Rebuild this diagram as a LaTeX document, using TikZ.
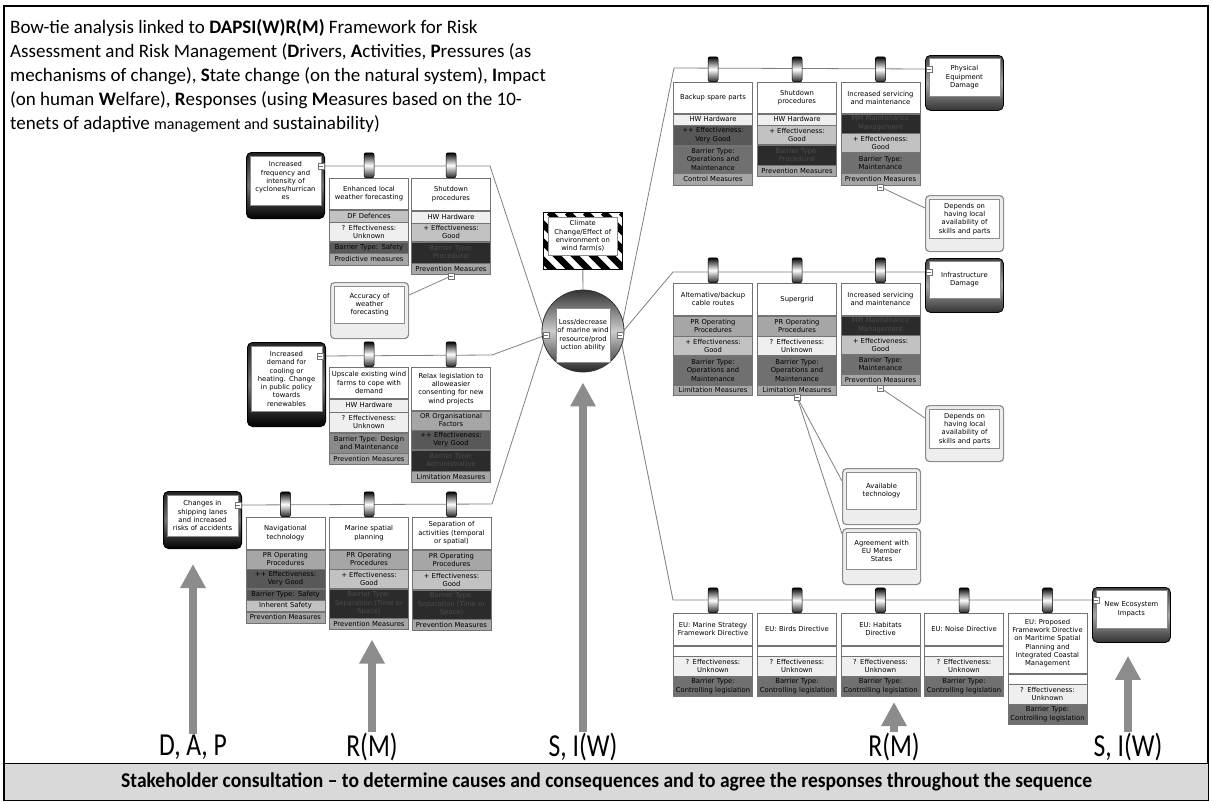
\documentclass[tikz,border=0pt]{standalone}
\usepackage{fontspec}
\usepackage{graphicx}
\setmainfont{Carlito}
\newfontfamily\boxfam{DejaVu Sans}
\usetikzlibrary{positioning,arrows.meta}
\newcommand\boxtxt{\boxfam\fontsize{6.8}{8.3}\selectfont}
\newcommand\ttlfont{\fontsize{19}{24}\selectfont}
\newcommand\labtxt[1]{\scalebox{0.8}[1]{\fontsize{32}{32}\selectfont #1}}
\newcommand\bnfont{\bfseries\fontsize{21}{21}\selectfont}
\definecolor{rA}{HTML}{EFEFEF}
\definecolor{rB}{HTML}{C2C2C2}
\definecolor{rC}{HTML}{A6A6A6}
\definecolor{rD}{HTML}{8A8A8A}
\definecolor{rE}{HTML}{707070}
\definecolor{rF}{HTML}{585858}
\definecolor{rG}{HTML}{2B2B2B}
\definecolor{wirec}{HTML}{7F7F7F}
\definecolor{arrc}{HTML}{8C8C8C}
\definecolor{banner}{HTML}{D9D9D9}
\pgfdeclarelayer{bg}
\pgfsetlayers{bg,main}
\begin{document}
\begin{tikzpicture}[x=1pt,y=-1pt,
  cell/.style={draw=black!55,line width=.5pt,minimum width=79pt,text width=79pt,inner xsep=0pt,inner ysep=0pt,align=center,font=\boxtxt},
  hd/.style={cell,fill=white,minimum height=#1pt,anchor=north},
  rw/.style 2 args={cell,fill=#1,minimum height=#2pt},
  dk/.style={text=black!70},
  hang/.style={draw=black,line width=.5pt,rounded corners=2pt,minimum width=10pt,minimum height=25pt,inner sep=0pt,top color=black,bottom color=black!85,middle color=white},
  thr/.style={rounded corners=5pt,draw=black,line width=1pt,minimum width=78pt,minimum height=#1pt,anchor=north west,inner sep=0pt,top color=black!85,bottom color=black,middle color=black!55},
  con/.style={thr=#1,line width=.8pt,top color=black!75,bottom color=black!80,middle color=black!35},
  tin/.style={draw=black!45,line width=.6pt,fill=white,minimum width=71pt,text width=71pt,minimum height=#1pt,align=center,font=\boxtxt,inner sep=0pt,anchor=north},
  esc/.style={rounded corners=4pt,draw=black!45,line width=1.2pt,fill=black!7,minimum width=78pt,minimum height=56pt,anchor=north west,inner sep=0pt},
  btn/.style={draw=black!55,fill=white,line width=.5pt,minimum size=6pt,inner sep=0pt,
    path picture={\draw[line width=.5pt] ([xshift=1.3pt]path picture bounding box.west) -- ([xshift=-1.3pt]path picture bounding box.east);}},
  wire/.style={draw=wirec,line width=.8pt},
  bigarr/.style={draw=arrc,line width=7.5pt,-{Triangle[length=24pt,width=24pt]}},
  lab/.style={inner sep=1pt}]
\useasboundingbox (0,0) rectangle (1212,801);
\draw[line width=1.2pt] (4,6) rectangle (1208,800);
\node[anchor=north west,align=left,font=\ttlfont,inner sep=0pt] (ttl) at (10,19)
  {Bow-tie analysis linked to \textbf{DAPSI(W)R(M)} Framework for Risk\\
   Assessment and Risk Management (\textbf{D}rivers, \textbf{A}ctivities, \textbf{P}ressures (as\\
   mechanisms of change), \textbf{S}tate change (on the natural system), \textbf{I}mpact\\
   (on human \textbf{W}elfare), \textbf{R}esponses (using \textbf{M}easures based on the 10-\\
   tenets of adaptive {\fontsize{16}{24}\selectfont management and} sustainability)};

% top event and hazard
\node[draw=black,line width=.6pt,minimum width=79pt,minimum height=57pt,anchor=north west,inner sep=0pt,
  path picture={\foreach \s in {-66,-48,...,84} \draw[line width=6.4pt] ([xshift=\s pt]path picture bounding box.north west) -- ++(62pt,-62pt);}] (hz) at (543,212) {};
\node[tin=38,minimum width=69pt,text width=69pt] (hzi) at ([yshift=-5pt]hz.north) {Climate\\Change/Effect of\\environment on\\wind farm(s)};
\node[circle,draw=black!80,line width=.8pt,minimum size=82pt,inner sep=0pt,top color=black!80,bottom color=black!85,middle color=black!20] (te) at (583,331) {};
\node[tin=54,minimum width=54pt,text width=54pt,anchor=center] (tei) at (583,335) {Loss/decrease\\of marine wind\\resource/prod\\uction ability};
\node[btn] (bl) at (546,335) {};
\node[btn] (br) at (620,335) {};

% threats
\node[thr=66] (t1) at (246,152) {};
\node[tin=49] (t1i) at ([yshift=-4pt]t1.north) {Increased\\frequency and\\intensity of\\cyclones/hurrican\\es};
\node[btn] (bt1) at (321,166) {};
\node[thr=84] (t2) at (247,342) {};
\node[tin=65] (t2i) at ([yshift=-4pt]t2.north) {Increased\\demand for\\cooling or\\heating. Change\\in public policy\\towards\\renewables};
\node[btn] (bt2) at (320,356) {};
\node[thr=57] (t3) at (163,491) {};
\node[tin=41] (t3i) at ([yshift=-4pt]t3.north) {Changes in\\shipping lanes\\and increased\\risks of accidents};
\node[btn] (bt3) at (238,505) {};

% barriers, threat 1
\node[hd=31] (a1) at (369,178) {Enhanced local\\weather forecasting};
\node[rw={rB}{12},below=0pt of a1] (a1a) {DF Defences};
\node[rw={rA}{19},below=0pt of a1a] (a1b) {? Effectiveness:\\Unknown};
\node[rw={rF}{11},below=0pt of a1b] (a1c) {Barrier Type: Safety};
\node[rw={rC}{12},below=0pt of a1c] (a1d) {Predictive measures};
\node[hang,above=0pt of a1] (ha1) {};
\node[hd=32] (a2) at (451,178) {Shutdown\\procedures};
\node[rw={rA}{12},below=0pt of a2] (a2a) {HW Hardware};
\node[rw={rB}{18},below=0pt of a2a] (a2b) {+ Effectiveness:\\Good};
\node[rw={rG}{21},dk,below=0pt of a2b] (a2c) {Barrier Type:\\Procedural};
\node[rw={rC}{11},below=0pt of a2c] (a2d) {Prevention Measures};
\node[hang,above=0pt of a2] (ha2) {};
\node[btn] (ba2) at (451,276) {};
\node[esc] (x1) at (330,282) {};
\node[tin=37,minimum width=70pt,text width=70pt] (x1i) at ([yshift=-4pt]x1.north) {Accuracy of\\weather\\forecasting};

% barriers, threat 2
\node[hd=31] (b1) at (369,367) {Upscale existing wind\\farms to cope with\\demand};
\node[rw={rA}{13},below=0pt of b1] (b1a) {HW Hardware};
\node[rw={rA}{20},below=0pt of b1a] (b1b) {? Effectiveness:\\Unknown};
\node[rw={rD}{20},below=0pt of b1b] (b1c) {Barrier Type: Design\\and Maintenance};
\node[rw={rC}{11},below=0pt of b1c] (b1d) {Prevention Measures};
\node[hang,above=0pt of b1] (hb1) {};
\node[hd=43] (b2) at (451,367) {Relax legislation to\\alloweasier\\consenting for new\\wind projects};
\node[rw={rC}{19},below=0pt of b2] (b2a) {OR Organisational\\Factors};
\node[rw={rF}{19},below=0pt of b2a] (b2b) {++ Effectiveness:\\Very Good};
\node[rw={rG}{21},dk,below=0pt of b2b] (b2c) {Barrier Type:\\Administrative};
\node[rw={rC}{11},below=0pt of b2c] (b2d) {Limitation Measures};
\node[hang,above=0pt of b2] (hb2) {};

% barriers, threat 3
\node[hd=32] (c1) at (285.5,517) {Navigational\\technology};
\node[rw={rC}{19},below=0pt of c1] (c1a) {PR Operating\\Procedures};
\node[rw={rF}{19},below=0pt of c1a] (c1b) {++ Effectiveness:\\Very Good};
\node[rw={rF}{11},below=0pt of c1b] (c1c) {Barrier Type: Safety};
\node[rw={rB}{11},below=0pt of c1c] (c1d) {Inherent Safety};
\node[rw={rC}{11},below=0pt of c1d] (c1e) {Prevention Measures};
\node[hang,above=0pt of c1] (hc1) {};
\node[hd=32] (c2) at (369,517) {Marine spatial\\planning};
\node[rw={rC}{19},below=0pt of c2] (c2a) {PR Operating\\Procedures};
\node[rw={rB}{19},below=0pt of c2a] (c2b) {+ Effectiveness:\\Good};
\node[rw={rG}{29},dk,below=0pt of c2b] (c2c) {Barrier Type:\\Separation (Time or\\Space)};
\node[rw={rC}{11},below=0pt of c2c] (c2d) {Prevention Measures};
\node[hang,above=0pt of c2] (hc2) {};
\node[hd=32] (c3) at (451.5,517) {Separation of\\activities (temporal\\or spatial)};
\node[rw={rC}{20},below=0pt of c3] (c3a) {PR Operating\\Procedures};
\node[rw={rB}{19},below=0pt of c3a] (c3b) {+ Effectiveness:\\Good};
\node[rw={rG}{29},dk,below=0pt of c3b] (c3c) {Barrier Type:\\Separation (Time or\\Space)};
\node[rw={rC}{11},below=0pt of c3c] (c3d) {Prevention Measures};
\node[hang,above=0pt of c3] (hc3) {};

% consequences
\node[con=55] (q1) at (925,55) {};
\node[tin=38] (q1i) at ([yshift=-3pt]q1.north) {Physical\\Equipment\\Damage};
\node[btn] (bq1) at (929,69) {};
\node[con=54] (q2) at (925,258) {};
\node[tin=37] (q2i) at ([yshift=-3pt]q2.north) {Infrastructure\\Damage};
\node[btn] (bq2) at (929,272) {};
\node[con=55] (q3) at (1092,587) {};
\node[tin=38] (q3i) at ([yshift=-3pt]q3.north) {New Ecosystem\\Impacts};
\node[btn] (bq3) at (1096,600) {};

% barriers, consequence 1
\node[hd=31] (d1) at (713,82) {Backup spare parts};
\node[rw={rA}{11},below=0pt of d1] (d1a) {HW Hardware};
\node[rw={rF}{20},below=0pt of d1a] (d1b) {++ Effectiveness:\\Very Good};
\node[rw={rE}{27},below=0pt of d1b] (d1c) {Barrier Type:\\Operations and\\Maintenance};
\node[rw={rC}{12},below=0pt of d1c] (d1d) {Control Measures};
\node[hang,above=0pt of d1] (hd1) {};
\node[hd=31] (d2) at (797,82) {Shutdown\\procedures};
\node[rw={rA}{11},below=0pt of d2] (d2a) {HW Hardware};
\node[rw={rB}{19},below=0pt of d2a] (d2b) {+ Effectiveness:\\Good};
\node[rw={rG}{20},dk,below=0pt of d2b] (d2c) {Barrier Type:\\Procedural};
\node[rw={rC}{11},below=0pt of d2c] (d2d) {Prevention Measures};
\node[hang,above=0pt of d2] (hd2) {};
\node[hd=31] (d3) at (880.5,82) {Increased servicing\\and maintenance};
\node[rw={rG}{19},dk,below=0pt of d3] (d3a) {MM Maintenance\\Management};
\node[rw={rB}{19},below=0pt of d3a] (d3b) {+ Effectiveness:\\Good};
\node[rw={rE}{20},below=0pt of d3b] (d3c) {Barrier Type:\\Maintenance};
\node[rw={rC}{12},below=0pt of d3c] (d3d) {Prevention Measures};
\node[hang,above=0pt of d3] (hd3) {};
\node[btn] (bd3) at (880.5,187) {};
\node[esc] (x2) at (925,195) {};
\node[tin=39,minimum width=70pt,text width=70pt] (x2i) at ([yshift=-4pt]x2.north) {Depends on\\having local\\availability of\\skills and parts};

% barriers, consequence 2
\node[hd=32] (f1) at (713,283) {Alternative/backup\\cable routes};
\node[rw={rC}{20},below=0pt of f1] (f1a) {PR Operating\\Procedures};
\node[rw={rB}{19},below=0pt of f1a] (f1b) {+ Effectiveness:\\Good};
\node[rw={rE}{29},below=0pt of f1b] (f1c) {Barrier Type:\\Operations and\\Maintenance};
\node[rw={rC}{10},below=0pt of f1c] (f1d) {Limitation Measures};
\node[hang,above=0pt of f1] (hf1) {};
\node[hd=32] (f2) at (797,283) {Supergrid};
\node[rw={rC}{20},below=0pt of f2] (f2a) {PR Operating\\Procedures};
\node[rw={rA}{19},below=0pt of f2a] (f2b) {? Effectiveness:\\Unknown};
\node[rw={rE}{29},below=0pt of f2b] (f2c) {Barrier Type:\\Operations and\\Maintenance};
\node[rw={rC}{10},below=0pt of f2c] (f2d) {Limitation Measures};
\node[hang,above=0pt of f2] (hf2) {};
\node[btn] (bf2) at (797,397) {};
\node[hd=32] (f3) at (880.5,283) {Increased servicing\\and maintenance};
\node[rw={rG}{19},dk,below=0pt of f3] (f3a) {MM Maintenance\\Management};
\node[rw={rB}{19},below=0pt of f3a] (f3b) {+ Effectiveness:\\Good};
\node[rw={rE}{19},below=0pt of f3b] (f3c) {Barrier Type:\\Maintenance};
\node[rw={rC}{11},below=0pt of f3c] (f3d) {Prevention Measures};
\node[hang,above=0pt of f3] (hf3) {};
\node[btn] (bf3) at (880.5,388) {};
\node[esc] (x3) at (925,405) {};
\node[tin=39,minimum width=70pt,text width=70pt] (x3i) at ([yshift=-4pt]x3.north) {Depends on\\having local\\availability of\\skills and parts};
\node[esc] (x4) at (842,468) {};
\node[tin=37,minimum width=70pt,text width=70pt] (x4i) at ([yshift=-4pt]x4.north) {Available\\technology};
\node[esc] (x5) at (842,528) {};
\node[tin=37,minimum width=70pt,text width=70pt] (x5i) at ([yshift=-4pt]x5.north) {Agreement with\\EU Member\\States};

% barriers, consequence 3
\node[hd=32] (g1) at (713,613) {EU: Marine Strategy\\Framework Directive};
\node[rw={white}{10},below=0pt of g1] (g1a) {};
\node[rw={rA}{20},below=0pt of g1a] (g1b) {? Effectiveness:\\Unknown};
\node[rw={rE}{19},below=0pt of g1b] (g1c) {Barrier Type:\\Controlling legislation};
\node[hang,above=0pt of g1] (hg1) {};
\node[hd=32] (g2) at (797,613) {EU: Birds Directive};
\node[rw={white}{10},below=0pt of g2] (g2a) {};
\node[rw={rA}{20},below=0pt of g2a] (g2b) {? Effectiveness:\\Unknown};
\node[rw={rE}{19},below=0pt of g2b] (g2c) {Barrier Type:\\Controlling legislation};
\node[hang,above=0pt of g2] (hg2) {};
\node[hd=32] (g3) at (880.5,613) {EU: Habitats\\Directive};
\node[rw={white}{10},below=0pt of g3] (g3a) {};
\node[rw={rA}{20},below=0pt of g3a] (g3b) {? Effectiveness:\\Unknown};
\node[rw={rE}{19},below=0pt of g3b] (g3c) {Barrier Type:\\Controlling legislation};
\node[hang,above=0pt of g3] (hg3) {};
\node[hd=32] (g4) at (964,613) {EU: Noise Directive};
\node[rw={white}{10},below=0pt of g4] (g4a) {};
\node[rw={rA}{20},below=0pt of g4a] (g4b) {? Effectiveness:\\Unknown};
\node[rw={rE}{19},below=0pt of g4b] (g4c) {Barrier Type:\\Controlling legislation};
\node[hang,above=0pt of g4] (hg4) {};
\node[hd=60] (g5) at (1047.5,613) {EU: Proposed\\Framework Directive\\on Maritime Spatial\\Planning and\\Integrated Coastal\\Management};
\node[rw={white}{10},below=0pt of g5] (g5a) {};
\node[rw={rA}{20},below=0pt of g5a] (g5b) {? Effectiveness:\\Unknown};
\node[rw={rE}{19},below=0pt of g5b] (g5c) {Barrier Type:\\Controlling legislation};
\node[hang,above=0pt of g5] (hg5) {};

% connectors
\coordinate (k1) at (490,166);
\coordinate (k2) at (492,355);
\coordinate (k3) at (492,504);
\coordinate (k4) at (674,68);
\coordinate (k5) at (673,272);
\coordinate (k6) at (673,600);
\begin{pgfonlayer}{bg}
\draw[wire] (bt1) -- (k1) -- (bl);
\draw[wire] (bt2) -- (k2) -- (bl);
\draw[wire] (bt3) -- (k3) -- (bl);
\draw[wire] (br) -- (k4) -- (bq1);
\draw[wire] (br) -- (k5) -- (bq2);
\draw[wire] (br) -- (k6) -- (bq3);
\draw[wire] (hz) -- (te);
\draw[wire] (ba2) -- ([yshift=-13pt]x1.north east);
\draw[wire] (bd3) -- ([yshift=-13pt]x2.north west);
\draw[wire] (bf3) -- ([yshift=-13pt]x3.north west);
\draw[wire] (bf2) -- ([yshift=-13pt]x4.north west);
\draw[wire] (bf2) -- ([yshift=-6pt]x5.north west);
\end{pgfonlayer}

% DAPSI(W)R(M) labels
\node[lab] (l1) at (193,747) {\labtxt{D, A, P}};
\node[lab] (l2) at (372,747) {\labtxt{R(M)}};
\node[lab] (l3) at (583,747) {\labtxt{S, I(W)}};
\node[lab] (l4) at (894,747) {\labtxt{R(M)}};
\node[lab] (l5) at (1128,747) {\labtxt{S, I(W)}};
\draw[bigarr,shorten >=15pt] (l1.north) -- (l1 |- t3.south);
\draw[bigarr,shorten >=10pt] (l2.north) -- (l2 |- c2d.south);
\draw[bigarr,shorten >=10pt] (l3.north) -- (te.south);
\draw[bigarr,shorten >=6pt] (l4.north) -- (l4 |- g3c.south);
\draw[bigarr,shorten >=13pt] (l5.north) -- (l5 |- q3.south);

\node[draw,line width=1.2pt,fill=banner,minimum width=1204pt,minimum height=37pt,anchor=north west,inner sep=0pt] (bn) at (4,763)
  {\scalebox{0.93}[1]{\bnfont Stakeholder consultation -- to determine causes and consequences and to agree the responses throughout the sequence}};
\end{tikzpicture}
\end{document}
